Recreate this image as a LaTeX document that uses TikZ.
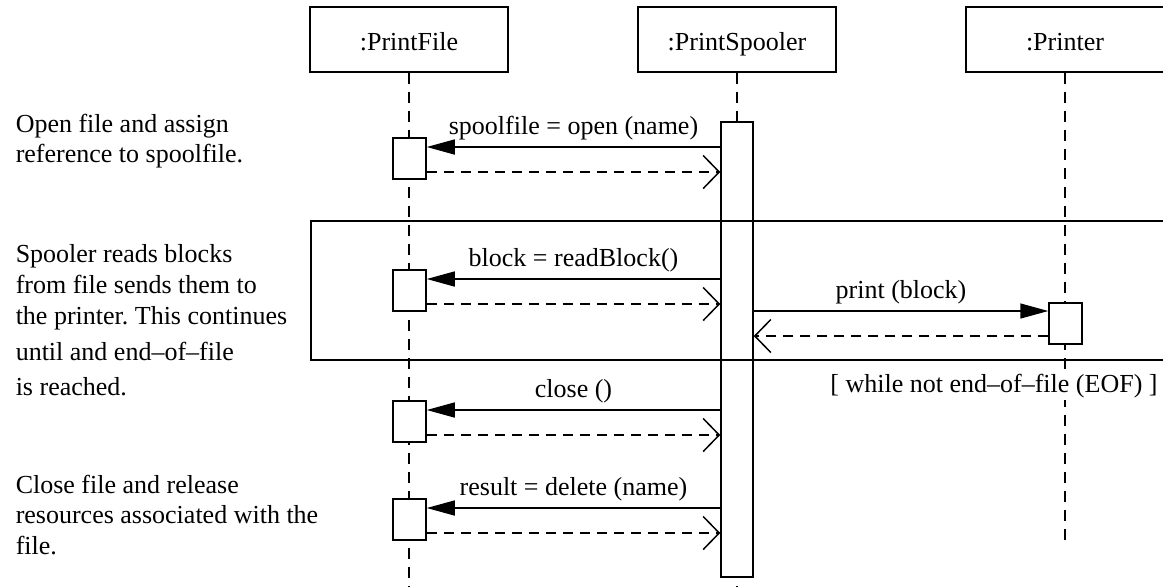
\documentclass[tikz,border=0pt]{standalone}
\usepackage{fontspec}
\setmainfont{Liberation Serif}
\usetikzlibrary{arrows.meta}
\frenchspacing
\begin{document}
\begin{tikzpicture}[x=0.5pt,y=-0.5pt,
  font=\fontsize{13}{15.4}\selectfont,
  line width=0.75pt,
  obj/.style={draw,minimum width=99pt,minimum height=32.5pt,inner sep=0,text height=10.5pt,text depth=0pt},
  act/.style={draw,fill=white,minimum width=16.5pt,minimum height=20.5pt,inner sep=0},
  lifeline/.style={dash pattern=on 5.5pt off 4pt},
  call/.style={-{Triangle[length=14pt,width=7.5pt]}},
  ret/.style={dash pattern=on 5pt off 3.5pt,-{Straight Barb[length=8pt,width=16.5pt]}},
  note/.style={anchor=north west,align=left,inner sep=0}]
\useasboundingbox (0,0) rectangle (1163,586);
\clip (0,0) rectangle (1163,586);
% objects
\node[obj] (file) at (409,39.5) {:PrintFile};
\node[obj] (spooler) at (737,39.5) {:PrintSpooler};
\node[obj] (printer) at (1065,39.5) {:Printer};
% lifelines
\coordinate (fileend) at (409,592);
\coordinate (spoolend) at (737,592);
\coordinate (printend) at (1065,541);
\draw[lifeline] (file) -- (fileend);
\draw[lifeline] (spooler) -- (spoolend);
\draw[lifeline] (printer) -- (printend);
\node[draw,fill=white,minimum width=16pt,minimum height=227.5pt,inner sep=0] (sp) at (737,349.5) {};
% loop fragment
\draw (311,221) rectangle (1175,360);
\node[fill=white,inner sep=1pt,anchor=base] (guard) at (994,392) {[ while not end--of--file (EOF) ]};
% messages between file and spooler
\foreach \n/\y/\lbl in {a1/138/{spoolfile = open (name)},a2/270/{block = readBlock()},
    a3/401/{close ()},a4/499/{result = delete (name)}}{
  \node[act] (\n) at (409.5,\y+20.5) {};
  \coordinate (\n call) at (0,\y+9);
  \coordinate (\n back) at (0,\y+34);
  \draw[call] (sp.west |- \n call) -- node[above] {\lbl} (\n.east |- \n call);
  \draw[ret] (\n.east |- \n back) -- (sp.west |- \n back);
}
% message to printer
\node[act] (pr) at (1065.5,323.5) {};
\coordinate (prcall) at (0,311);
\coordinate (prback) at (0,336);
\draw[call] (sp.east |- prcall) -- node[above] {print (block)} (pr.west |- prcall);
\draw[ret] (pr.west |- prback) -- (sp.east |- prback);
% notes
\node[note] (n1) at (15,113) {Open file and assign\\reference to spoolfile.};
\node[note] (n2) at (15,244) {Spooler reads blocks\\from file sends them to\\the printer. This continues\\[2.75pt]until and end--of--file\\[1.75pt]is reached.};
\node[note] (n3) at (15,474) {Close file and release\\resources associated with the\\file.};
\end{tikzpicture}
\end{document}
